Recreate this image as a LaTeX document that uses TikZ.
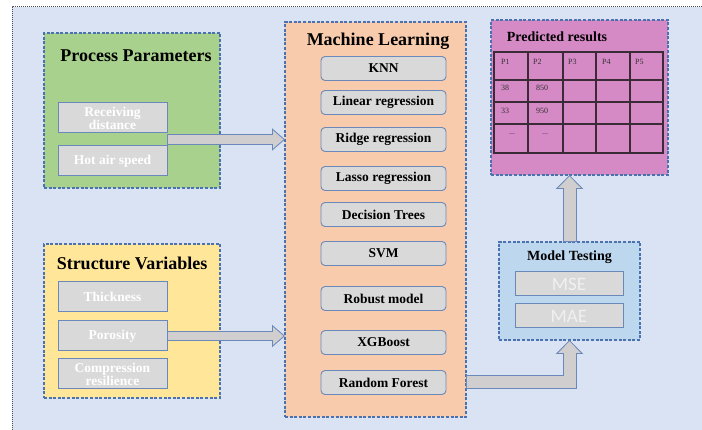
\documentclass[tikz,border=0pt]{standalone}
\usepackage{fontspec}
\setmainfont{Liberation Serif}
\newfontfamily\metricfont{Carlito}
\usetikzlibrary{positioning, arrows.meta}

\definecolor{backblue}{HTML}{DAE3F3}
\definecolor{edgeblue}{HTML}{4A72B0}
\definecolor{paramgreen}{HTML}{A9D18E}
\definecolor{varyellow}{HTML}{FFE699}
\definecolor{mlorange}{HTML}{F8CBAD}
\definecolor{resultpink}{HTML}{D589C5}
\definecolor{testblue}{HTML}{BDD7EE}
\definecolor{boxgray}{HTML}{D9D9D9}
\definecolor{boxrim}{HTML}{6A88BA}
\definecolor{arrowgray}{HTML}{D0CECE}
\definecolor{gridline}{HTML}{3B2B36}

\tikzset{
  group/.style={draw=edgeblue, line width=1.2pt, dash pattern=on 3pt off 1.6pt, inner sep=0pt, outer sep=0pt},
  param/.style={draw=boxrim, line width=1pt, fill=boxgray, minimum width=109pt, minimum height=30pt, inner sep=0pt, outer sep=0pt, text=white, align=center, font=\bfseries\fontsize{13.5}{13}\selectfont},
  model/.style={draw=boxrim, line width=0.9pt, fill=boxgray, rounded corners=4pt, minimum width=125pt, minimum height=24pt, inner sep=0pt, outer sep=0pt, font=\bfseries\fontsize{13.5}{15}\selectfont},
  metric/.style={draw=boxrim, line width=1pt, fill=boxgray, minimum width=108pt, minimum height=24pt, inner sep=0pt, outer sep=0pt, text=white!94!black, font=\metricfont\fontsize{19}{20}\selectfont},
  bigtitle/.style={anchor=base, inner sep=0pt, font=\bfseries\fontsize{18}{20}\selectfont},
  smalltitle/.style={anchor=base, inner sep=0pt, font=\bfseries\fontsize{14}{16}\selectfont},
  cell/.style={anchor=base west, inner sep=0pt, text=black!80, font=\fontsize{8}{9}\selectfont},
  rim/.style={draw=boxrim, line width=10.5pt, -{Triangle[length=13pt, width=22.5pt, line width=0pt]}},
  core/.style={draw=arrowgray, line width=8.5pt, shorten <=1pt, shorten >=1.5pt, -{Triangle[length=10.5pt, width=18.1pt, line width=0pt]}},
  bigrim/.style={draw=boxrim, line width=14pt, -{Triangle[length=14pt, width=27.5pt, line width=0pt]}},
  bigcore/.style={draw=arrowgray, line width=12pt, shorten <=1pt, shorten >=1.4pt, -{Triangle[length=11.6pt, width=22.7pt, line width=0pt]}},
}

\begin{document}
\begin{tikzpicture}[x=1pt, y=1pt]
  \useasboundingbox (0,0) rectangle (702,430);
  \fill[backblue] (12,0) rectangle (702,423);
  \draw[black!70, line width=1pt, densely dotted] (12,0) -- (12,423) -- (702,423);

  % inputs
  \node[group, fill=paramgreen, minimum width=176pt, minimum height=155pt] (pp) at (132,319.5) {};
  \node[bigtitle] (ppt) at (136,368) {Process Parameters};
  \node[param] (rd) at (112.5,312) {Receiving\\distance};
  \node[param, below=13pt of rd] (has) {Hot air speed};

  \node[group, fill=varyellow, minimum width=176pt, minimum height=154pt] (sv) at (132,109) {};
  \node[bigtitle] (svt) at (132,160) {Structure Variables};
  \node[param] (th) at (112.5,133) {Thickness};
  \node[param, below=9pt of th] (po) {Porosity};
  \node[param, below=8pt of po] (cr) {Compression\\resilience};

  % models
  \node[group, fill=mlorange, minimum width=181pt, minimum height=395pt] (ml) at (375.5,210.5) {};
  \node[bigtitle] (mlt) at (378,384) {Machine Learning};
  \node[model] (knn) at (383.5,361.5) {KNN};
  \node[model, below=10pt of knn] (lin) {Linear regression};
  \node[model, below=13pt of lin] (ridge) {Ridge regression};
  \node[model, below=15pt of ridge] (lasso) {Lasso regression};
  \node[model, below=12pt of lasso] (dt) {Decision Trees};
  \node[model, below=15pt of dt] (svm) {SVM};
  \node[model, below=21pt of svm] (rob) {Robust model};
  \node[model, below=20pt of rob] (xgb) {XGBoost};
  \node[model, below=16pt of xgb] (rf) {Random Forest};

  % results
  \node[group, fill=resultpink, minimum width=177pt, minimum height=155pt] (pr) at (579.5,332.5) {};
  \node[smalltitle] (prt) at (557,388) {Predicted results};
  \draw[gridline, line width=1.2pt] (494,277) rectangle (663,378);
  \foreach \x in {528,563,596,630}
    \draw[gridline, line width=1.2pt] (\x,277) -- (\x,378);
  \foreach \y in {350,328,306}
    \draw[gridline, line width=1.2pt] (494,\y) -- (663,\y);
  \foreach \x/\t [count=\i] in {501/P1, 533/P2, 568/P3, 602/P4, 635/P5}
    \node[cell] (h\i) at (\x,365.5) {\t};
  \node[cell] (r1a) at (501,339) {38};
  \node[cell] (r1b) at (536,339) {850};
  \node[cell] (r2a) at (501,316) {33};
  \node[cell] (r2b) at (536,316) {950};
  \node[cell] (r3a) at (509,295) {...};
  \node[cell] (r3b) at (542,295) {...};

  % testing
  \node[group, fill=testblue, minimum width=141pt, minimum height=98pt] (mt) at (569.5,139) {};
  \node[smalltitle] (mtt) at (569.5,169) {Model Testing};
  \node[metric] (mse) at (569,146) {MSE};
  \node[metric, below=8pt of mse] (mae) {MAE};

  % arrows
  \coordinate[below=6.5pt of rd.south east] (gap);
  \draw[rim] (gap) -- (gap -| ml.west);
  \draw[core] (gap) -- (gap -| ml.west);
  \draw[rim] (po.east) -- (po.east -| ml.west);
  \draw[core] (po.east) -- (po.east -| ml.west);
  \draw[bigrim] (rf.east -| ml.east) -| (mt.south);
  \draw[bigcore] (rf.east -| ml.east) -| (mt.south);
  \draw[bigrim] (mt.north) -- (mt.north |- pr.south);
  \draw[bigcore] (mt.north) -- (mt.north |- pr.south);
\end{tikzpicture}
\end{document}
